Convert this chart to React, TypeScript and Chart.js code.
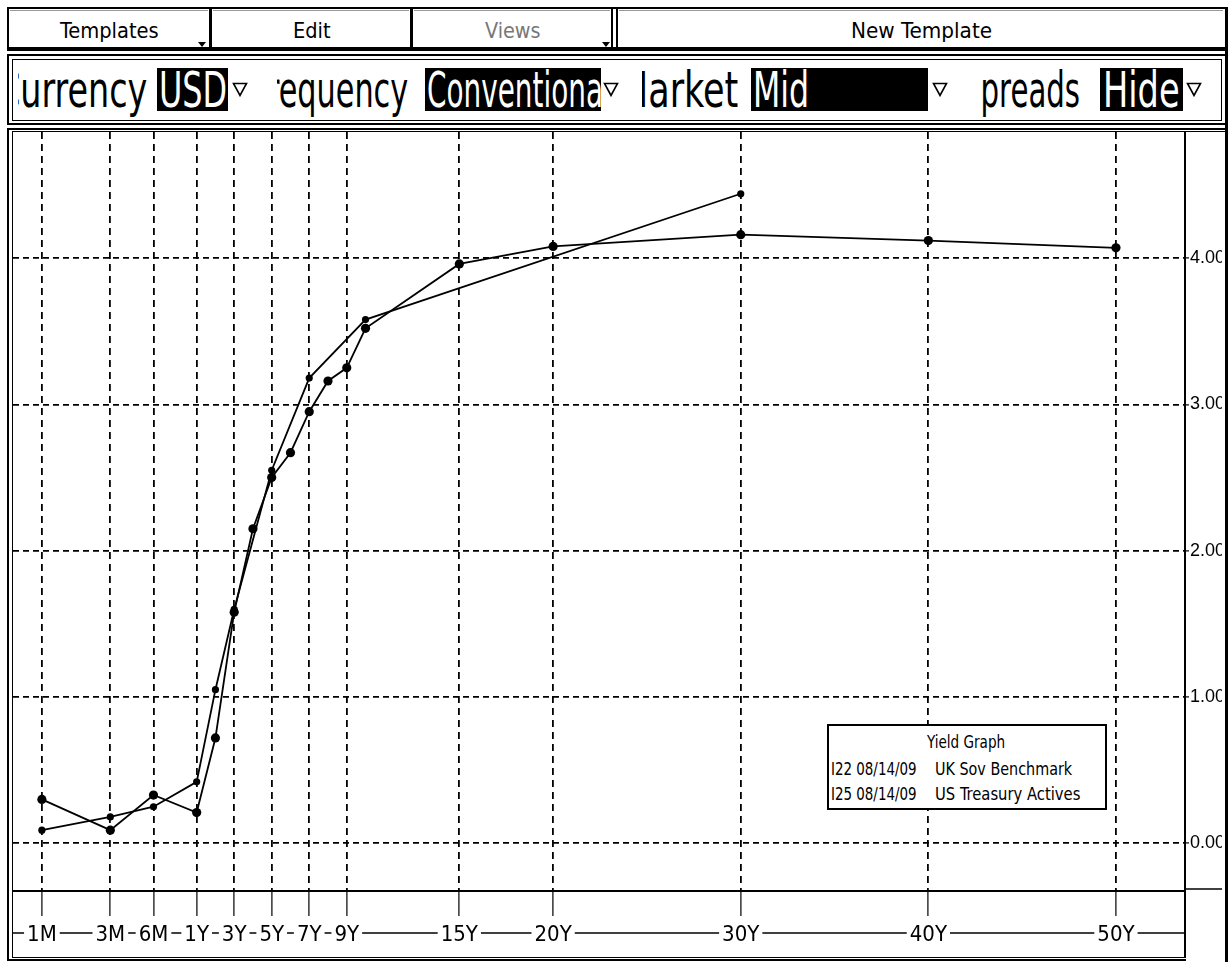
import React, { useEffect, useLayoutEffect, useRef, useState } from 'react';
import { Chart, registerables } from 'chart.js';

Chart.register(...registerables);

// ---------------- data ----------------
const X_TICK_TENORS = ['1M', '3M', '6M', '1Y', '3Y', '5Y', '7Y', '9Y', '15Y', '20Y', '30Y', '40Y', '50Y'];
const Y_TICK_VALUES = [0, 1, 2, 3, 4];

const UK_TENORS = ['1M', '3M', '6M', '1Y', '2Y', '3Y', '4Y', '5Y', '6Y', '7Y', '8Y', '9Y', '10Y', '15Y', '20Y', '30Y', '40Y', '50Y'];
const UK_YIELDS = [0.30, 0.09, 0.33, 0.21, 0.72, 1.58, 2.15, 2.50, 2.67, 2.95, 3.16, 3.25, 3.52, 3.96, 4.08, 4.16, 4.12, 4.07];

const US_TENORS = ['1M', '3M', '6M', '1Y', '2Y', '3Y', '5Y', '7Y', '10Y', '30Y'];
const US_YIELDS = [0.09, 0.18, 0.25, 0.42, 1.05, 1.60, 2.55, 3.18, 3.58, 4.44];

const LEGEND_TITLE = 'Yield Graph';
const LEGEND_IDS = ['I22 08/14/09', 'I25 08/14/09'];
const LEGEND_NAMES = ['UK Sov Benchmark', 'US Treasury Actives'];

const MENU_LABELS = ['Templates', 'Edit', 'Views', 'New Template'];
const FIELD_LABELS = ['Currency', 'Frequency', 'Market', 'Spreads'];
const FIELD_VALUES = ['USD', 'Conventional', 'Mid', 'Hide'];

// ---------------- axis transform ----------------
// maturities of one year and more are linear in years; the bill end is logarithmic
const SHORT_END_LOG_FACTOR = 3.32;
const X_MIN = -8.79;
const X_MAX = 53.68;
const Y_MIN = -0.326;
const Y_MAX = 4.862;

function tenorYears(t: string): number {
  const n = parseFloat(t);
  return t.endsWith('M') ? n / 12 : n;
}
function axisPos(years: number): number {
  return years >= 1 ? years : 1 + SHORT_END_LOG_FACTOR * Math.log(years);
}

const NARROW = '"Liberation Sans Narrow", "Arial Narrow", "DejaVu Sans Condensed", "Liberation Sans", Arial, sans-serif';
const SANS = '"Liberation Sans", Arial, sans-serif';

// ---------------- helpers ----------------
function R({ x, y, w, h, c = '#000' }: { x: number; y: number; w: number; h: number; c?: string }) {
  return <div style={{ position: 'absolute', left: x, top: y, width: w, height: h, background: c }} />;
}

function FitText({ text, x, baseline, width, size, color = '#000', family = NARROW }:
  { text: string; x: number; baseline: number; width: number; size: number; color?: string; family?: string }) {
  const ref = useRef<HTMLSpanElement>(null);
  const [sx, setSx] = useState(1);
  useLayoutEffect(() => {
    const el = ref.current;
    if (!el) return;
    const w = el.offsetWidth;
    if (w > 0) setSx(width / w);
  }, [text, width, size, family]);
  return (
    <span
      ref={ref}
      style={{
        position: 'absolute', left: x, top: baseline - size * 0.8465, fontSize: size,
        lineHeight: `${size}px`, fontFamily: family, color, whiteSpace: 'nowrap',
        transform: `scaleX(${sx})`, transformOrigin: '0 0', display: 'block',
      }}
    >
      {text}
    </span>
  );
}

function Clip({ x1, x2, y1, y2, children }: { x1: number; x2: number; y1: number; y2: number; children: React.ReactNode }) {
  return (
    <div style={{ position: 'absolute', left: x1, top: y1, width: x2 - x1, height: y2 - y1, overflow: 'hidden' }}>
      {children}
    </div>
  );
}

function DropTri({ x, y }: { x: number; y: number }) {
  return (
    <svg style={{ position: 'absolute', left: x, top: y }} width={16} height={15}>
      <polygon points="1.5,1.5 14.5,1.5 8,13.5" fill="#fff" stroke="#000" strokeWidth={1.6} />
    </svg>
  );
}

function SmallTri({ x, y }: { x: number; y: number }) {
  return (
    <div style={{ position: 'absolute', left: x, top: y, width: 0, height: 0,
      borderLeft: '4px solid transparent', borderRight: '4px solid transparent', borderTop: '5px solid #000' }} />
  );
}

const extraLines = {
  id: 'extraLines',
  beforeDraw(chart: any) {
    const { ctx, chartArea } = chart;
    ctx.save();
    ctx.strokeStyle = '#000';
    ctx.lineWidth = 1.5;
    ctx.beginPath();
    const yLab = chartArea.bottom + 42;
    ctx.moveTo(0, yLab);
    ctx.lineTo(chartArea.right, yLab);
    ctx.stroke();
    ctx.restore();
  },
  afterDraw(chart: any) {
    const { ctx, chartArea, width, height } = chart;
    ctx.save();
    ctx.strokeStyle = '#000';
    ctx.lineWidth = 2;
    ctx.beginPath();
    ctx.moveTo(chartArea.right, 0);
    ctx.lineTo(chartArea.right, height);
    ctx.stroke();
    ctx.lineWidth = 1.5;
    ctx.beginPath();
    ctx.moveTo(chartArea.right + 1, chartArea.bottom - 2);
    ctx.lineTo(width, chartArea.bottom - 2);
    ctx.stroke();
    ctx.restore();
  },
};

function YieldChart() {
  const canvasRef = useRef<HTMLCanvasElement>(null);
  useEffect(() => {
    if (!canvasRef.current) return;
    const ukData = UK_TENORS.map((t, i) => ({ x: axisPos(tenorYears(t)), y: UK_YIELDS[i] }));
    const usData = US_TENORS.map((t, i) => ({ x: axisPos(tenorYears(t)), y: US_YIELDS[i] }));
    const chart = new Chart(canvasRef.current, {
      type: 'line',
      data: {
        datasets: [
          {
            label: LEGEND_NAMES[0], data: ukData, borderColor: '#000', backgroundColor: '#000',
            borderWidth: 1.8, pointRadius: 4.6, pointBorderWidth: 0, pointBackgroundColor: '#000', tension: 0,
          },
          {
            label: LEGEND_NAMES[1], data: usData, borderColor: '#000', backgroundColor: '#000',
            borderWidth: 1.8, pointRadius: 3.6, pointBorderWidth: 0, pointBackgroundColor: '#000', tension: 0,
          },
        ],
      },
      options: {
        animation: false,
        responsive: true,
        maintainAspectRatio: false,
        layout: { padding: 0, autoPadding: false },
        plugins: { legend: { display: false }, tooltip: { enabled: false } },
        scales: {
          x: {
            type: 'linear',
            position: 'bottom',
            min: X_MIN,
            max: X_MAX,
            bounds: 'data',
            afterBuildTicks: (scale: any) => {
              scale.ticks = X_TICK_TENORS.map((t) => ({ value: axisPos(tenorYears(t)) }));
            },
            afterFit: (scale: any) => { scale.height = 66; scale.paddingLeft = 0; scale.paddingRight = 0; },
            grid: {
              color: '#000', lineWidth: 1.8, tickLength: 25, tickWidth: 1.2, tickColor: '#000',
              tickBorderDash: [], drawOnChartArea: true,
            },
            border: { display: true, color: '#000', width: 2, dash: [7, 5] },
            ticks: {
              autoSkip: false, maxRotation: 0, minRotation: 0, padding: 8,
              color: '#000', font: { family: NARROW, size: 22, lineHeight: 1 },
              showLabelBackdrop: true, backdropColor: '#fff',
              backdropPadding: { left: 3, right: 3, top: 0, bottom: 0 },
              callback: (_v: any, i: number) => X_TICK_TENORS[i],
            },
          },
          y: {
            type: 'linear',
            position: 'right',
            min: Y_MIN,
            max: Y_MAX,
            bounds: 'data',
            afterBuildTicks: (scale: any) => {
              scale.ticks = Y_TICK_VALUES.map((v) => ({ value: v }));
            },
            afterFit: (scale: any) => { scale.width = 37; scale.paddingTop = 0; scale.paddingBottom = 0; },
            grid: { color: '#000', lineWidth: 1.8, tickLength: 4, tickWidth: 1.2, tickColor: '#000', tickBorderDash: [] },
            border: { display: true, color: '#000', width: 2, dash: [6, 4] },
            ticks: {
              padding: 1, color: '#000', font: { family: SANS, size: 18 },
              callback: (v: any) => Number(v).toFixed(2),
            },
          },
        },
      },
      plugins: [extraLines],
    } as any);
    return () => chart.destroy();
  }, []);
  return (
    <div style={{ position: 'absolute', left: 13, top: 132, width: 1209, height: 825 }}>
      <canvas ref={canvasRef} />
    </div>
  );
}

export default function App() {
  const B = 107; // baseline of the field row
  const FS = 49;
  return (
    <div style={{ position: 'absolute', left: 0, top: 0, width: 1231, height: 962, background: '#fff', overflow: 'hidden' }}>
      {/* menu row */}
      <R x={7} y={7} w={1221} h={2} />
      <R x={7} y={47} w={1221} h={4} />
      <R x={7} y={7} w={2} h={44} />
      <R x={209} y={7} w={3} h={44} />
      <R x={410} y={7} w={3} h={44} />
      <R x={611} y={7} w={2} h={44} />
      <R x={616} y={7} w={2} h={44} />
      <R x={10} y={10} w={198} h={1} c="#999" />
      <R x={213} y={10} w={196} h={1} c="#999" />
      <R x={414} y={10} w={196} h={1} c="#999" />
      <R x={619} y={10} w={604} h={1} c="#999" />
      <SmallTri x={198} y={42} />
      <SmallTri x={602} y={42} />
      <FitText text={MENU_LABELS[0]} x={60} baseline={39} width={99} size={21} family={NARROW} />
      <FitText text={MENU_LABELS[1]} x={293} baseline={39} width={38} size={21} />
      <FitText text={MENU_LABELS[2]} x={485} baseline={39} width={56} size={21} color="#777" />
      <FitText text={MENU_LABELS[3]} x={851} baseline={39} width={141} size={21} />

      {/* field row */}
      <R x={7} y={54} w={1221} h={2} />
      <R x={7} y={123} w={1221} h={2} />
      <R x={7} y={54} w={2} h={71} />
      <R x={12} y={59} w={1210} h={1} />
      <R x={12} y={120} w={1210} h={1} />
      <R x={12} y={59} w={1} h={62} />
      <R x={1221} y={59} w={1} h={62} />

      <Clip x1={18} x2={152} y1={60} y2={120}>
        <FitText text={FIELD_LABELS[0]} x={-3 - 18} baseline={B - 60} width={150} size={FS} />
      </Clip>
      <R x={157} y={68} w={71} h={43} />
      <FitText text={FIELD_VALUES[0]} x={159} baseline={B} width={68} size={FS} color="#fff" />
      <DropTri x={232} y={82} />

      <Clip x1={277} x2={412} y1={60} y2={120}>
        <FitText text={FIELD_LABELS[1]} x={252 - 277} baseline={B - 60} width={156} size={FS} />
      </Clip>
      <R x={425} y={68} w={176} h={43} />
      <Clip x1={425} x2={601} y1={68} y2={111}>
        <FitText text={FIELD_VALUES[1]} x={2} baseline={B - 68} width={184} size={FS} color="#fff" />
      </Clip>
      <DropTri x={603} y={82} />

      <Clip x1={642} x2={742} y1={60} y2={120}>
        <FitText text={FIELD_LABELS[2]} x={618 - 642} baseline={B - 60} width={120} size={FS} />
      </Clip>
      <R x={751} y={68} w={177} h={43} />
      <FitText text={FIELD_VALUES[2]} x={753} baseline={B} width={56} size={FS} color="#fff" />
      <DropTri x={932} y={82} />

      <Clip x1={981} x2={1088} y1={60} y2={120}>
        <FitText text={FIELD_LABELS[3]} x={962 - 981} baseline={B - 60} width={118} size={FS} />
      </Clip>
      <R x={1100} y={68} w={83} h={43} />
      <FitText text={FIELD_VALUES[3]} x={1103} baseline={B} width={77} size={FS} color="#fff" />
      <DropTri x={1186} y={82} />

      {/* chart frame */}
      <R x={7} y={128} w={1221} h={2} />
      <R x={12} y={131} w={1213} h={1} />
      <R x={7} y={128} w={2} h={832} />
      <R x={12} y={131} w={1} h={826} />

      <YieldChart />

      <R x={12} y={957} w={1174} h={1} />
      <R x={7} y={959} w={1179} h={2} />
      <R x={1225} y={7} w={3} h={955} />

      {/* legend */}
      <div style={{ position: 'absolute', left: 827, top: 724, width: 276, height: 82, border: '2px solid #000', background: '#fff' }} />
      <FitText text={LEGEND_TITLE} x={927} baseline={748} width={78} size={17} />
      <FitText text={LEGEND_IDS[0]} x={831} baseline={775} width={86} size={17} />
      <FitText text={LEGEND_NAMES[0]} x={935} baseline={775} width={137} size={17} />
      <FitText text={LEGEND_IDS[1]} x={831} baseline={800} width={86} size={17} />
      <FitText text={LEGEND_NAMES[1]} x={935} baseline={800} width={145} size={17} />
    </div>
  );
}
